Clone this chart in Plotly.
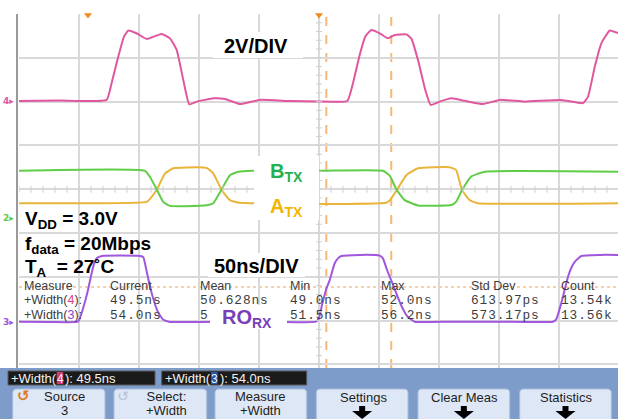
import plotly.graph_objects as go

# ---------------- data (time in ns, amplitude in volts) ----------------
# Channel 4 (pink) - transmitter input
ch4_t = [0, 34, 73, 77.2, 82.7, 87.5, 91.1, 98.3, 106.4, 118.9, 125.8, 131.4, 136.9, 141.9,
         148.1, 161.9, 171.7, 184.2, 200.8, 225.8, 250.8,
         273.6, 278.3, 283.9, 288.6, 293.6, 300.6, 307.5, 313.1, 322.8, 326.9, 332.5, 338.6,
         343.1, 350.6, 360.3, 371.4, 386.7, 400.6, 421.4, 451.9, 470.0, 474.2, 479.8, 485.3,
         492.3, 499.2]
ch4_v = [0, 0.02, 0.05, 0.82, 2.02, 2.94, 3.22, 3.08, 2.83, 3.06, 2.86, 2.33, 0.96, -0.15,
         -0.03, 0.12, 0.09, -0.14, 0.05, 0.0, -0.02,
         0.0, 0.81, 2.10, 2.94, 3.24, 3.09, 2.86, 3.01, 3.04, 2.86, 1.87, 0.50,
         -0.18, -0.03, 0.12, 0.01, -0.14, 0.05, -0.03, 0.05, -0.10, 0.20, 1.56, 2.63,
         3.22, 3.10]

# Channel 2 (green) - B_TX
chB_t = [0, 105, 109.2, 114.7, 120.2, 125.8, 150.8, 157.5, 161.9, 168.9, 175.8, 182.8, 195,
         252.5, 303.3, 309.2, 314.4, 321.4, 332.5, 360.3, 364.2, 369.2, 376.9, 388.1, 499.2]
chB_v = [0.42, 0.42, 0.28, 0.0, -0.29, -0.38, -0.38, -0.36, -0.32, 0.0, 0.32, 0.40, 0.42,
         0.42, 0.42, 0.30, 0.0, -0.25, -0.37, -0.36, -0.29, -0.02, 0.29, 0.40, 0.40]

# Channel 1 (orange) - A_TX
chA_t = [0, 106.4, 109.2, 114.7, 121.7, 128.6, 150.8, 156.7, 161.9, 168.9, 175.8, 184.2, 195,
         247.8, 306.1, 309.2, 315.3, 322.8, 332.5, 358.9, 364.2, 369.2, 375.6, 382.5, 499.2]
chA_v = [-0.32, -0.29, -0.22, -0.02, 0.36, 0.48, 0.50, 0.48, 0.36, -0.02, -0.25, -0.31, -0.32,
         -0.34, -0.31, -0.25, 0.0, 0.32, 0.48, 0.50, 0.44, -0.02, -0.25, -0.32, -0.32]

# Channel 3 (purple) - RO_RX
ch3_t = [0, 25.8, 49.2, 50.8, 54.2, 57.5, 60.0, 62.5, 65.0, 69.2, 84.2, 100.8, 103.6, 105.8,
         108.3, 111.7, 115.8, 120.0, 125.8, 150.8, 200.8, 247.5,
         250.0, 252.5, 255.8, 258.9, 263.1, 265.8, 268.6, 284.2, 300.6, 303.3, 306.7, 311.7,
         317.2, 320.8, 324.2, 329.8, 359.2, 400.8, 445.0,
         447.8, 451.9, 457.5, 460.2, 463.1, 468.6, 484.2, 499.2]
ch3_v = [0, -0.01, 0, 0.17, 0.76, 1.45, 2.09, 2.63, 2.91, 3.0, 3.02, 3.0, 2.95, 2.45,
         1.81, 1.08, 0.44, 0.10, -0.01, -0.01, 0.01, 0.0,
         0.17, 0.76, 1.45, 1.90, 2.67, 2.89, 3.0, 3.05, 3.02, 2.89, 2.36, 1.68,
         0.91, 0.49, 0.21, 0.0, 0.0, 0.0, 0.0,
         0.12, 0.85, 2.05, 2.45, 2.73, 3.0, 3.05, 3.05]

# measurement table
meas_headers = ["Measure", "Current", "Mean", "Min", "Max", "Std Dev", "Count"]
meas_row4 = ["49.5ns", "50.628ns", "49.0ns", "52.0ns", "613.97ps", "13.54k"]
meas_row3 = ["54.0ns", "5", "51.5ns", "56.2ns", "573.17ps", "13.56k"]
cursor_t = [256.1, 310.2]
trigger_t = [57.5, 250.0]
buttons = [("Source", "3"), ("Select:", "+Width"), ("Measure", "+Width"),
           ("Settings", None), ("Clear Meas", None), ("Statistics", None)]

# ---------------- geometry ----------------
W, H = 618, 419
ML, MR, MT, MB = 19, 0, 14, 51
PW, PH = W - ML - MR, H - MT - MB
NS_PER_DIV, PXDIV_X = 50, 60
PXDIV_Y = 43.8
X_MAX = PW / PXDIV_X * NS_PER_DIV
Y_TOP = 4.0
Y_BOT = Y_TOP - PH / PXDIV_Y

# channel scale (V/div) and offset (div)
CH4_SCALE, CH4_OFF = 2.0, 2.014
CH3_SCALE, CH3_OFF = 2.0, -3.025
CHAB_SCALE, CHAB_OFF = 1.0, 0.0


def px(x):
    return (x - ML) / PW


def py(y):
    return (MT + PH - y) / PH


PINK = "#e0579f"
GREEN = "#5fcd48"
ORANGE = "#e8b53a"
PURPLE = "#a056de"

fig = go.Figure()


def add_ch(t, v, scale, off, color):
    fig.add_trace(go.Scatter(x=t, y=[vv / scale + off for vv in v], mode="lines",
                             line=dict(color=color, width=2, shape="spline", smoothing=0.4),
                             hoverinfo="skip", showlegend=False))


add_ch(ch4_t, ch4_v, CH4_SCALE, CH4_OFF, PINK)
add_ch(chA_t, chA_v, CHAB_SCALE, CHAB_OFF, ORANGE)
add_ch(chB_t, chB_v, CHAB_SCALE, CHAB_OFF, GREEN)
add_ch(ch3_t, ch3_v, CH3_SCALE, CH3_OFF, PURPLE)

# center-axis minor ticks
tx, ty = [], []
for k in range(0, 51):
    t = k * NS_PER_DIV / 5
    if t <= X_MAX:
        tx += [t, t, None]
        ty += [-0.08, 0.08, None]
for k in range(-20, 21):
    d = k / 5
    tx += [250 - 2.5, 250 + 2.5, None]
    ty += [d, d, None]
fig.add_trace(go.Scatter(x=tx, y=ty, mode="lines", line=dict(color="#cfcfcf", width=1),
                         hoverinfo="skip", showlegend=False))

# trigger markers at top
fig.add_trace(go.Scatter(x=trigger_t, y=[Y_TOP - 0.02] * len(trigger_t), mode="markers",
                         marker=dict(symbol="triangle-down", size=7, color="#f08a1c"),
                         cliponaxis=False, hoverinfo="skip", showlegend=False))

shapes = []
# cursors
for ct in cursor_t:
    shapes.append(dict(type="line", xref="x", yref="paper", x0=ct, x1=ct, y0=0, y1=1,
                       line=dict(color="#f6b878", width=2, dash="dash"), layer="between"))
shapes.append(dict(type="line", xref="paper", yref="paper", x0=0, x1=1, y0=py(287), y1=py(287),
                   line=dict(color="#f6c08a", width=1.5, dash="dot"), layer="between"))
# left border
shapes.append(dict(type="line", xref="paper", yref="paper", x0=px(17), x1=px(17), y0=0, y1=1,
                   line=dict(color="#9a9a9a", width=2)))

# white label boxes over traces
for (x0, y0, x1, y1) in [(213, 32, 303, 58), (254, 156, 319, 220), (208, 253, 305, 277),
                         (210, 305, 287, 329)]:
    shapes.append(dict(type="rect", xref="paper", yref="paper", x0=px(x0), x1=px(x1),
                       y0=py(y1), y1=py(y0), fillcolor="white", line=dict(width=0),
                       layer="above"))

# bottom panel
shapes.append(dict(type="rect", xref="paper", yref="paper", x0=px(0), x1=px(W), y0=py(H),
                   y1=py(368), fillcolor="#7d9cca", line=dict(width=0), layer="above"))
for (x0, x1) in [(8, 155), (161.7, 306.7)]:
    shapes.append(dict(type="rect", xref="paper", yref="paper", x0=px(x0), x1=px(x1),
                       y0=py(385), y1=py(371), fillcolor="#1b1b1b",
                       line=dict(color="#5a5a5a", width=1), layer="above"))
shapes.append(dict(type="rect", xref="paper", yref="paper", x0=px(56.7), x1=px(63.3),
                   y0=py(384), y1=py(372), fillcolor="#d03a72", line=dict(width=0), layer="above"))
shapes.append(dict(type="rect", xref="paper", yref="paper", x0=px(211), x1=px(217.7),
                   y0=py(384), y1=py(372), fillcolor="#2457b0", line=dict(width=0), layer="above"))


def rrect(x0, y0, x1, y1, r):
    pts = [("M", x0 + r, y0), ("L", x1 - r, y0), ("Q", x1, y0, x1, y0 + r), ("L", x1, y1 - r),
           ("Q", x1, y1, x1 - r, y1), ("L", x0 + r, y1), ("Q", x0, y1, x0, y1 - r),
           ("L", x0, y0 + r), ("Q", x0, y0, x0 + r, y0)]
    s = ""
    for p in pts:
        if p[0] == "Q":
            s += f"Q{px(p[1]):.5f},{py(p[2]):.5f} {px(p[3]):.5f},{py(p[4]):.5f} "
        else:
            s += f"{p[0]}{px(p[1]):.5f},{py(p[2]):.5f} "
    return s + "Z"


btn_x = [(12.7, 105), (114, 206.7), (215, 306.7), (316.3, 408), (418, 509.7), (519.7, 611.3)]
for (x0, x1) in btn_x:
    shapes.append(dict(type="path", xref="paper", yref="paper", path=rrect(x0, 389, x1, 423, 4),
                       fillcolor="#dde7f5", line=dict(color="#a9bddb", width=1), layer="above"))

annotations = []


def ann(text, x, y, size=13, color="black", family="Liberation Sans", xanchor="left",
        yanchor="middle", align="left"):
    annotations.append(dict(text=text, x=px(x), y=py(y), xref="paper", yref="paper",
                            showarrow=False, xanchor=xanchor, yanchor=yanchor, borderpad=0,
                            align=align, font=dict(size=size, color=color, family=family)))


for i, (l1, l2) in enumerate(buttons):
    x0, x1 = btn_x[i]
    cx = (x0 + x1) / 2
    if l2 is None:
        ann(l1, cx + 1, 397, xanchor="center", color="#1e1e1e")
        # arrow
        shapes.append(dict(type="path", xref="paper", yref="paper",
                           path=(f"M{px(cx-3):.5f},{py(406):.5f} L{px(cx+3):.5f},{py(406):.5f} "
                                 f"L{px(cx+3):.5f},{py(411):.5f} L{px(cx+10):.5f},{py(411):.5f} "
                                 f"L{px(cx):.5f},{py(419):.5f} L{px(cx-10):.5f},{py(411):.5f} "
                                 f"L{px(cx-3):.5f},{py(411):.5f} Z"),
                           fillcolor="black", line=dict(width=0), layer="above"))
    else:
        off = 6 if i < 2 else 0
        ann(f"<span style='font-size:13px'>{l1}</span><br>"
            f"<span style='font-size:13px'>{l2}</span>",
            cx + off, 403.5, size=10.4, color="#1e1e1e", xanchor="center", align="center")

ann("<b>↺</b>", 23, 396, size=15, color="#e07a1e", xanchor="center", family="DejaVu Sans")
ann("↺", 123, 396, size=14, color="#b9c3d3", xanchor="center", family="DejaVu Sans")

# status bars
ann("+Width(", 10, 378.5, size=13, color="#f2f2f2")
ann("4", 60, 378.5, size=12, color="#f2f2f2", xanchor="center")
ann("): 49.5ns", 64, 378.5, size=13, color="#f2f2f2")
ann("+Width(", 163.5, 378.5, size=13, color="#f2f2f2")
ann("3", 214.3, 378.5, size=12, color="#f2f2f2", xanchor="center")
ann("): 54.0ns", 218.5, 378.5, size=13, color="#f2f2f2")

# big labels
ann("<b>2V/DIV</b>", 255.5, 46, size=20, xanchor="center")
ann("<b>50ns/DIV</b>", 256.5, 266, size=20, xanchor="center")
ann("<b>B<sub>TX</sub></b>", 269, 172, size=20, color="#22b14c")
ann("<b>A<sub>TX</sub></b>", 269, 207, size=20, color="#f2b400")
ann("<b>RO<sub>RX</sub></b>", 221, 318, size=20, color="#7a3db8")
ann("<b>V<sub>DD</sub> = 3.0V</b>", 24, 220.5, size=19)
ann("<b>f<sub>data</sub> = 20Mbps</b>", 24, 244.5, size=19)
ann("<b>T<sub>A</sub>\u00a0 = 27˚C</b>", 24, 268, size=19)

# channel ground markers
ann("<b>4▸</b>", 2, 101, size=9, color=PINK, family="DejaVu Sans")
ann("<b>2▸</b>", 2, 218, size=9, color=GREEN, family="DejaVu Sans")
ann("<b>3▸</b>", 2, 322, size=9, color=PURPLE, family="DejaVu Sans")

# measurement table: one text block per column (header + two result rows)
col_x = [22.7, 109, 199.3, 289, 379.7, 469.7, 559.7]
TXT = "#3c3c3c"
SANS = "font-family:Liberation Sans;font-size:12.5px"
MONO = "font-family:Liberation Mono;font-size:12.8px;letter-spacing:0.9px"


def col_text(h, r4, r3, label=False):
    st = SANS if label else MONO
    return (f"<span style='{SANS}'>{h}</span><br><span style='{st}'>{r4}</span><br>"
            f"<span style='{st}'>{r3}</span>")


ann(col_text(meas_headers[0], "+Width(<span style='color:#e0407a'>4</span>):",
             "+Width(<span style='color:#8a3fd0'>3</span>):", label=True),
    col_x[0], 300.6, size=11.1, color=TXT)
for h, r4, r3, cx in zip(meas_headers[1:], meas_row4, meas_row3, col_x[1:]):
    ann(col_text(h, r4, r3), cx, 300.6, size=11.1, color=TXT)

fig.update_layout(
    width=W, height=H, margin=dict(l=ML, r=MR, t=MT, b=MB, pad=0),
    paper_bgcolor="white", plot_bgcolor="white",
    xaxis=dict(range=[0, X_MAX], dtick=NS_PER_DIV, tick0=0, showgrid=True, gridcolor="#d9d9d9",
               gridwidth=1.5, zeroline=False, showticklabels=False, ticks="", showline=False,
               fixedrange=True),
    yaxis=dict(range=[Y_BOT, Y_TOP], dtick=1, tick0=0, showgrid=True, gridcolor="#d9d9d9",
               gridwidth=1.5, zeroline=False, showticklabels=False, ticks="", showline=False,
               fixedrange=True),
    shapes=shapes, annotations=annotations, showlegend=False,
)

fig.write_html("out.html", config={"displayModeBar": False},
               post_script="document.body.style.margin='0';document.body.style.overflow='hidden';")
